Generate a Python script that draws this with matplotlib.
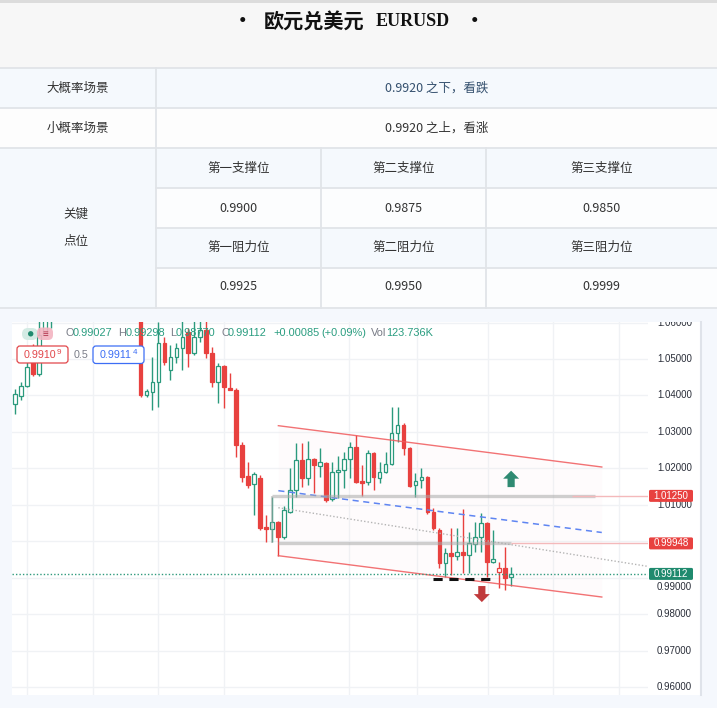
import numpy as np
import matplotlib.pyplot as plt
from matplotlib.patches import Rectangle, FancyBboxPatch, Circle
from matplotlib.transforms import offset_copy

W, H = 717, 708
CJK = ['Noto Sans CJK SC', 'DejaVu Sans']
LAT = ['Liberation Sans', 'DejaVu Sans']

# ---- table content
title_cn = "欧元兑美元"
title_en = "EURUSD"
scenario_names = ["大概率场景", "小概率场景"]
scenario_vals = ["0.9920 之下，看跌", "0.9920 之上，看涨"]
key_label = ["关键", "点位"]
support_names = ["第一支撑位", "第二支撑位", "第三支撑位"]
support_vals = ["0.9900", "0.9875", "0.9850"]
resist_names = ["第一阻力位", "第二阻力位", "第三阻力位"]
resist_vals = ["0.9925", "0.9950", "0.9999"]

# ---- candles (bars 7-20 sit above the visible range)
opens = [1.0377, 1.0399, 1.0426, 1.0525, 1.0459, 1.0566, 1.0610, 1.0680, 1.0725, 1.0735,
         1.0782, 1.0733, 1.0648, 1.0749, 1.0719, 1.0695, 1.0704, 1.0716, 1.0690, 1.0660,
         1.0685, 1.0650, 1.0401, 1.0410, 1.0437, 1.0544, 1.0470, 1.0506, 1.0530, 1.0574,
         1.0516, 1.0560, 1.0580, 1.0516, 1.0437, 1.0481, 1.0418, 1.0415, 1.0264, 1.0180,
         1.0158, 1.0174, 1.0040, 1.0034, 1.0053, 1.0012, 1.0081, 1.0141, 1.0223, 1.0174,
         1.0226, 1.0207, 1.0215, 1.0116, 1.0190, 1.0196, 1.0226, 1.0259, 1.0166, 1.0163,
         1.0243, 1.0174, 1.0190, 1.0212, 1.0297, 1.0319, 1.0256, 1.0155, 1.0168, 1.0177,
         1.0081, 1.0032, 0.9941, 0.9969, 0.9960, 0.9971, 0.9963, 0.9993, 1.0012, 1.0051,
         0.9944, 0.9916, 0.9927, 0.99027]
highs = [1.0418, 1.0437, 1.0497, 1.0540, 1.0615, 1.0650, 1.0700, 1.0745, 1.0765, 1.0787,
         1.0790, 1.0740, 1.0765, 1.0765, 1.0755, 1.0720, 1.0750, 1.0775, 1.0720, 1.0700,
         1.0700, 1.0665, 1.0418, 1.0506, 1.0601, 1.0560, 1.0538, 1.0544, 1.0605, 1.0585,
         1.0605, 1.0608, 1.0605, 1.0533, 1.0489, 1.0484, 1.0462, 1.0421, 1.0273, 1.0218,
         1.0190, 1.0182, 1.0073, 1.0122, 1.0055, 1.0097, 1.0201, 1.0270, 1.0270, 1.0275,
         1.0229, 1.0256, 1.0218, 1.0218, 1.0234, 1.0245, 1.0273, 1.0292, 1.0210, 1.0251,
         1.0245, 1.0218, 1.0245, 1.0369, 1.0369, 1.0325, 1.0259, 1.0188, 1.0201, 1.0180,
         1.0092, 1.0037, 0.9982, 1.0037, 1.0037, 1.0089, 1.0026, 1.0053, 1.0078, 1.0053,
         1.0032, 0.9944, 0.9985, 0.99298]
lows = [1.0349, 1.0388, 1.0423, 1.0453, 1.0453, 1.0570, 1.0585, 1.0660, 1.0690, 1.0705,
        1.0680, 1.0630, 1.0627, 1.0700, 1.0680, 1.0655, 1.0680, 1.0650, 1.0640, 1.0625,
        1.0630, 1.0396, 1.0396, 1.0360, 1.0369, 1.0484, 1.0443, 1.0489, 1.0470, 1.0478,
        1.0511, 1.0547, 1.0503, 1.0423, 1.0380, 1.0366, 1.0414, 1.0232, 1.0163, 1.0147,
        1.0073, 1.0032, 0.9999, 0.9999, 0.9960, 1.0007, 1.0078, 1.0122, 1.0149, 1.0155,
        1.0133, 1.0177, 1.0108, 1.0110, 1.0119, 1.0147, 1.0174, 1.0160, 1.0125, 1.0155,
        1.0141, 1.0160, 1.0188, 1.0210, 1.0273, 1.0237, 1.0149, 1.0122, 1.0147, 1.0075,
        1.0032, 0.9927, 0.9903, 0.9908, 0.9949, 0.9914, 0.9914, 0.9971, 0.9971, 0.9903,
        0.9941, 0.9873, 0.9867, 0.98770]
closes = [1.0404, 1.0426, 1.0478, 1.0459, 1.0566, 1.0620, 1.0680, 1.0725, 1.0735, 1.0782,
          1.0733, 1.0648, 1.0749, 1.0719, 1.0695, 1.0704, 1.0716, 1.0690, 1.0660, 1.0685,
          1.0650, 1.0401, 1.0412, 1.0437, 1.0544, 1.0492, 1.0506, 1.0530, 1.0560, 1.0516,
          1.0560, 1.0580, 1.0516, 1.0437, 1.0481, 1.0423, 1.0415, 1.0264, 1.0177, 1.0155,
          1.0185, 1.0037, 1.0034, 1.0053, 1.0012, 1.0086, 1.0141, 1.0223, 1.0174, 1.0226,
          1.0210, 1.0218, 1.0114, 1.0190, 1.0196, 1.0226, 1.0259, 1.0163, 1.0160, 1.0243,
          1.0177, 1.0190, 1.0212, 1.0297, 1.0319, 1.0256, 1.0152, 1.0166, 1.0177, 1.0081,
          1.0037, 0.9941, 0.9969, 0.9960, 0.9971, 0.9963, 0.9996, 1.0012, 1.0051, 0.9944,
          0.9952, 0.9927, 0.9900, 0.99112]

ohlc_keys = ["O", "H", "L", "C", "", "", "Vol"]
ohlc_vals = ["0.99027", "0.99298", "0.98770", "0.99112", "+0.00085", "(+0.09%)", "123.736K"]
price_ticks = [1.06, 1.05, 1.04, 1.03, 1.02, 1.01, 1.00, 0.99, 0.98, 0.97, 0.96]
# 1.00000 is hidden behind the 0.99948 marker in the original
tick_labels = ["1.06000", "1.05000", "1.04000", "1.03000", "1.02000", "1.01000", "",
               "0.99000", "0.98000", "0.97000", "0.96000"]
grid_x = [1.96, 13.1, 24.0, 35.0, 55.9, 67.2, 79.1, 90.0, 101.0]
last_price = 0.99112
level_prices = [1.0125, 0.99948]
level_labels = ["1.01250", "0.99948"]

# drawings, in (bar index, price)
chan_upper = ([44.06, 98.17], [1.03173, 1.02041])
chan_lower = ([44.06, 98.17], [0.99611, 0.98479])
blue_dash = ([44.06, 98.17], [1.01392, 1.00247])
grey_dots = ([44.06, 105.9], [1.00926, 0.99318])
floor_dash = ([69.9, 79.7], [0.98986, 0.98986])
up_arrow = (83.0, 1.0149, 1.0194)
down_arrow = (78.1, 0.9878, 0.9834)

GREEN = '#2b9a7d'
RED = '#e8413f'
TXT = '#333333'
LINE = '#e1e4e8'

fig = plt.figure(figsize=(W / 100, H / 100), dpi=100)

# ---------------- background + table (pixel coordinates)
bg = fig.add_axes([0, 0, 1, 1])
bg.set_xlim(0, W); bg.set_ylim(H, 0); bg.axis('off'); bg.set_zorder(0)

def rect(x, y, w, h, fc):
    bg.add_patch(Rectangle((x, y), w, h, fc=fc, ec='none'))

rect(0, 0, W, H, 'white')
rect(0, 0, W, 3, '#dcdcdc')
rect(0, 3, W, 65, '#f7f7f7')
rect(0, 68, W, 40, '#f5f9fd')
rect(0, 108, W, 40, '#fdfdfd')
rect(0, 148, 156, 160, '#f5f9fd')
for k, y0 in enumerate([148, 188, 228, 268]):
    rect(156, y0, W - 156, 40, '#f5f9fd' if k % 2 == 0 else '#fcfdfe')

lw = 1.3
for y0 in [68, 108, 148, 308]:
    bg.plot([0, W], [y0, y0], color=LINE, lw=lw)
for y0 in [188, 228, 268]:
    bg.plot([156, W], [y0, y0], color=LINE, lw=lw)
bg.plot([156, 156], [68, 308], color=LINE, lw=lw)
for x0 in [321, 486]:
    bg.plot([x0, x0], [148, 308], color=LINE, lw=lw)

bg.text(243, 22, "•", fontsize=14, fontweight='bold', family=CJK, ha='center', va='center', color='#111')
bg.text(314, 22, title_cn, fontsize=14.5, fontweight='bold', family=CJK, ha='center', va='center', color='#111')
bg.text(413, 22, title_en, fontsize=13, fontweight='bold', family=['Liberation Serif', 'DejaVu Serif'],
        ha='center', va='center', color='#111')
bg.text(475, 22, "•", fontsize=14, fontweight='bold', family=CJK, ha='center', va='center', color='#111')

tfs = 9
for k, (nm, val) in enumerate(zip(scenario_names, scenario_vals)):
    yc = 88 + 40 * k
    bg.text(78, yc, nm, fontsize=tfs, family=CJK, ha='center', va='center', color=TXT)
    bg.text(437, yc, val, fontsize=tfs, family=CJK, ha='center', va='center',
            color='#34506e' if k == 0 else TXT)
bg.text(76, 214, key_label[0], fontsize=tfs, family=CJK, ha='center', va='center', color=TXT)
bg.text(76, 241, key_label[1], fontsize=tfs, family=CJK, ha='center', va='center', color=TXT)
col_c = [238.5, 403.5, 601.5]
for j in range(3):
    bg.text(col_c[j], 168, support_names[j], fontsize=tfs, family=CJK, ha='center', va='center', color=TXT)
    bg.text(col_c[j], 208, support_vals[j], fontsize=tfs, family=CJK, ha='center', va='center', color=TXT)
    bg.text(col_c[j], 247, resist_names[j], fontsize=tfs, family=CJK, ha='center', va='center', color=TXT)
    bg.text(col_c[j], 287, resist_vals[j], fontsize=tfs, family=CJK, ha='center', va='center', color=TXT)

# chart frame
rect(0, 309, W, H - 309, '#f5f8fd')
rect(12, 322, 690, 373, 'white')
bg.plot([701, 701], [322, 695], color='#dfe3ea', lw=1.5)

# ---------------- price chart
ax = fig.add_axes([12 / W, (H - 695) / H, 636 / W, 373 / H])
ax.set_zorder(1)
ax.patch.set_alpha(0)
ax.set_xlim(-0.502, 105.9)
ax.set_ylim(0.957945, 1.060137)
for s in ax.spines.values():
    s.set_visible(False)
ax.set_xticks([]); ax.set_yticks([])

ax.hlines(price_ticks, -1, 107, color='#f0f2f5', lw=1, zorder=0)
ax.vlines(grid_x, 0.9, 1.1, color='#f0f2f5', lw=1, zorder=0)

# channel fill
xs = np.array(chan_upper[0])
ax.fill_between(xs, chan_lower[1], chan_upper[1], color='#f7e4ec', alpha=0.12, lw=0, zorder=1)

n = len(opens)
prev_close = [opens[0]] + closes[:-1]
min_body = 0.00045
for i in range(n):
    o, h, l, c = opens[i], highs[i], lows[i], closes[i]
    col = GREEN if c >= prev_close[i] else RED
    ax.vlines(i, l, h, color=col, lw=1, zorder=3)
    lo, hi = min(o, c), max(o, c)
    if hi - lo < min_body:
        hi = lo + min_body
    ax.bar(i, hi - lo, bottom=lo, width=0.62, color=col if c < o else 'white',
           edgecolor=col, lw=0.9, zorder=4)

# drawings
ax.plot(*chan_upper, color='#f05a5c', lw=1, alpha=0.85, zorder=5)
ax.plot(*chan_lower, color='#f05a5c', lw=1, alpha=0.85, zorder=5)
ax.plot(*blue_dash, color='#5f85f2', lw=1.1, ls=(0, (4, 3)), zorder=5)
ax.plot(*grey_dots, color='#b4b4b4', lw=1, ls=(0, (1, 1.5)), zorder=5)
ax.hlines(level_prices[0], 43.0, 97.05, color='#a9a9a9', lw=2.4, alpha=0.55, zorder=5)
ax.hlines(level_prices[1], 44.06, 83.0, color='#a9a9a9', lw=2.4, alpha=0.55, zorder=5)
ax.vlines(43.0, level_prices[1], level_prices[0], color='#a9a9a9', lw=1.5, alpha=0.5, zorder=5)
ax.hlines(level_prices[0], 93.2, 106, color='#f4b9bb', lw=1, zorder=5)
ax.hlines(level_prices[1], 83.0, 106, color='#f4b9bb', lw=1, zorder=5)
ax.axhline(last_price, color='#2f9a7d', lw=1, ls=(0, (1, 1.5)), zorder=5)
ax.plot(*floor_dash, color='#111111', lw=2.2, ls=(0, (3, 2.2)), zorder=6)

for (xa, y0, y1), colr in [(up_arrow, '#2f8a72'), (down_arrow, '#c0393b')]:
    ax.annotate('', xy=(xa, y1), xytext=(xa, y0),
                arrowprops=dict(arrowstyle='simple,head_length=0.5,head_width=1,tail_width=0.45',
                                mutation_scale=11.5, fc=colr, ec='none', shrinkA=0, shrinkB=0),
                zorder=7)

# ---------------- price scale
pax = fig.add_axes([648 / W, (H - 695) / H, 54 / W, 373 / H])
pax.set_zorder(2)
pax.set_xlim(0, 54)
pax.set_ylim(ax.get_ylim())
pax.axis('off')
for p, lab in zip(price_ticks, tick_labels):
    if not lab:
        continue
    tr = pax.transData
    if abs(p - 0.99) < 1e-9:
        tr = offset_copy(pax.transData, fig=fig, y=-9, units='dots')
    pax.text(9, p, lab, transform=tr, fontsize=7, family=LAT, color='#2a2e39',
             ha='left', va='center', clip_on=True, zorder=1)

hh = 6 * (ax.get_ylim()[1] - ax.get_ylim()[0]) / 373
for p, lab, colr in zip(level_prices + [last_price], level_labels + [f"{last_price:.5f}"],
                        [RED, RED, '#1f8a6e']):
    pax.add_patch(FancyBboxPatch((1, p - hh), 44, 2 * hh, boxstyle='round,pad=0,rounding_size=1.5',
                                 fc=colr, ec='none', zorder=3, mutation_aspect=hh / 6))
    pax.text(23, p, lab, fontsize=7, family=LAT, color='white', ha='center', va='center', zorder=4)

# ---------------- legend overlay (pixel coordinates)
ov = fig.add_axes([0, 0, 1, 1])
ov.set_xlim(0, W); ov.set_ylim(H, 0); ov.axis('off'); ov.set_zorder(3)
ov.patch.set_alpha(0)
ov.add_patch(FancyBboxPatch((22, 328), 16, 12, boxstyle='round,pad=0,rounding_size=6',
                            fc='#d3ebe4', ec='none'))
ov.add_patch(Circle((30.7, 333.8), 2.7, fc='#1f8a6e', ec='none'))
ov.add_patch(FancyBboxPatch((37, 327.5), 16, 12.5, boxstyle='round,pad=0,rounding_size=5',
                            fc='#f3b4c1', ec='none', alpha=0.9))
ov.text(45, 334, "≡", fontsize=7, color='#b3304a', ha='center', va='center', family=LAT)

ohlc_x = [(65, 72.5), (118, 126), (170, 176), (221.5, 228), (None, 273), (None, 321.5), (370.5, 386)]
for (kx, vx), key, val in zip(ohlc_x, ohlc_keys, ohlc_vals):
    if key:
        ov.text(kx, 333.5, key, fontsize=7.9, family=LAT, color='#787b86', ha='left', va='center')
    ov.text(vx, 333.5, val, fontsize=7.9, family=LAT, color='#2a9d80', ha='left', va='center')

ov.add_patch(FancyBboxPatch((17, 346), 51, 17, boxstyle='round,pad=0,rounding_size=3',
                            fc='white', ec='#e2474b', lw=0.9))
ov.text(24, 355, "0.9910", fontsize=7.7, family=LAT, color='#e2474b', ha='left', va='center')
ov.text(57, 352, "9", fontsize=5.8, family=LAT, color='#e2474b', ha='left', va='center')
ov.text(74, 355, "0.5", fontsize=7.7, family=LAT, color='#787b86', ha='left', va='center')
ov.add_patch(FancyBboxPatch((93, 346), 51, 17.5, boxstyle='round,pad=0,rounding_size=3',
                            fc='white', ec='#3d6ef5', lw=0.9))
ov.text(100, 355, "0.9911", fontsize=7.7, family=LAT, color='#3d6ef5', ha='left', va='center')
ov.text(133, 352, "4", fontsize=5.8, family=LAT, color='#3d6ef5', ha='left', va='center')

fig.savefig('out.png', dpi=100)
